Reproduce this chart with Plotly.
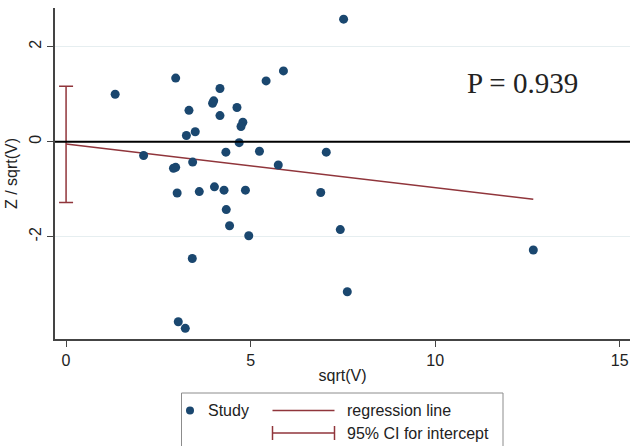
import plotly.graph_objects as go

# ---- data ----
sqrt_v = [1.33, 2.97, 3.33, 3.26, 3.50, 4.17, 3.97, 4.00, 4.17, 4.63,
          4.79, 4.74, 4.69, 5.42, 5.89, 4.33, 5.24, 5.75, 2.10, 2.91,
          2.97, 3.43, 3.01, 3.61, 4.02, 4.28, 4.86, 4.34, 4.43, 4.95,
          3.42, 3.04, 3.23, 6.90, 7.43, 12.66, 7.62, 7.52, 7.05]
z_over_sqrt_v = [1.00, 1.34, 0.66, 0.13, 0.21, 1.12, 0.81, 0.86, 0.55, 0.72,
                 0.41, 0.32, -0.02, 1.28, 1.49, -0.22, -0.20, -0.49, -0.29, -0.56,
                 -0.54, -0.43, -1.08, -1.05, -0.95, -1.02, -1.02, -1.43, -1.77, -1.98,
                 -2.46, -3.79, -3.93, -1.07, -1.85, -2.28, -3.16, 2.58, -0.22]
intercept = -0.05
slope = -0.0916
ci_low = -1.28
ci_high = 1.17
p_text = "P = 0.939"
x_ticks = [0, 5, 10, 15]
y_ticks = [-2, 0, 2]
y_tick_labels = ["-2", "0", "2"]

NAVY = "#1A476F"
MAROON = "#90353B"
FONT = "Liberation Sans, Arial, sans-serif"

W, H = 630, 446
L, R, T, B = 55, 630, 8, 339  # plot area in pixels


def pxx(p):
    return (p - L) / (R - L)


def pxy(p):
    return (B - p) / (B - T)


fig = go.Figure()

# regression line from 0 to max sqrt(V)
x_end = max(sqrt_v)
fig.add_trace(go.Scatter(x=[0, x_end], y=[intercept, intercept + slope * x_end],
                         mode="lines", line=dict(color=MAROON, width=1.5),
                         showlegend=False, hoverinfo="skip"))

# 95% CI for intercept as error bar at x = 0
mid = (ci_low + ci_high) / 2
fig.add_trace(go.Scatter(x=[0], y=[mid], mode="markers",
                         marker=dict(size=1, color="rgba(0,0,0,0)"),
                         error_y=dict(type="data", symmetric=False,
                                      array=[ci_high - mid], arrayminus=[mid - ci_low],
                                      color=MAROON, thickness=1.5, width=7),
                         showlegend=False, hoverinfo="skip"))

# study points
fig.add_trace(go.Scatter(x=sqrt_v, y=z_over_sqrt_v, mode="markers",
                         marker=dict(color=NAVY, size=9), showlegend=False))

shapes = [
    # zero reference line
    dict(type="line", xref="paper", yref="y", x0=0, x1=1, y0=0, y1=0,
         line=dict(color="black", width=2)),
]

# custom legend (Stata style)
box_l, box_r, box_t, box_b = 181.5, 503, 393, 452
shapes.append(dict(type="rect", xref="paper", yref="paper",
                   x0=pxx(box_l), x1=pxx(box_r), y0=pxy(box_b), y1=pxy(box_t),
                   line=dict(color="#8c8c8c", width=1), fillcolor="white", layer="above"))
row1, row2 = 410.5, 433
lx0, lx1 = 272.5, 334.5
shapes.append(dict(type="circle", xref="paper", yref="paper",
                   x0=pxx(186), x1=pxx(194), y0=pxy(row1 + 4), y1=pxy(row1 - 4),
                   fillcolor=NAVY, line=dict(color=NAVY, width=0), layer="above"))
shapes.append(dict(type="line", xref="paper", yref="paper",
                   x0=pxx(lx0), x1=pxx(lx1), y0=pxy(row1), y1=pxy(row1),
                   line=dict(color=MAROON, width=1.5), layer="above"))
shapes.append(dict(type="line", xref="paper", yref="paper",
                   x0=pxx(lx0), x1=pxx(lx1), y0=pxy(row2), y1=pxy(row2),
                   line=dict(color=MAROON, width=1.5), layer="above"))
for cx in (lx0, lx1):
    shapes.append(dict(type="line", xref="paper", yref="paper",
                       x0=pxx(cx), x1=pxx(cx), y0=pxy(row2 - 7), y1=pxy(row2 + 7),
                       line=dict(color=MAROON, width=1.5), layer="above"))

annotations = [
    dict(x=12.38, y=1.24, xref="x", yref="y", text=p_text, showarrow=False,
         font=dict(family="Liberation Serif, Times New Roman, serif", size=29, color="#222")),
    dict(x=pxx(206), y=pxy(row1), xref="paper", yref="paper", text="Study",
         showarrow=False, xanchor="left", yanchor="middle",
         font=dict(family=FONT, size=16, color="#222")),
    dict(x=pxx(345), y=pxy(row1), xref="paper", yref="paper", text="regression line",
         showarrow=False, xanchor="left", yanchor="middle",
         font=dict(family=FONT, size=16, color="#222")),
    dict(x=pxx(345), y=pxy(row2), xref="paper", yref="paper", text="95% CI for intercept",
         showarrow=False, xanchor="left", yanchor="middle",
         font=dict(family=FONT, size=16, color="#222")),
]

axis_common = dict(showline=True, linecolor="#444", linewidth=1.5,
                   ticks="outside", ticklen=6, tickcolor="#444", tickwidth=1.2,
                   tickfont=dict(family=FONT, size=16, color="#222"),
                   zeroline=False, automargin=False)

fig.update_layout(
    width=W, height=H,
    margin=dict(l=L, r=W - R, t=T, b=H - B),
    paper_bgcolor="white", plot_bgcolor="white",
    showlegend=False,
    shapes=shapes, annotations=annotations,
    xaxis=dict(range=[-0.30, 15.28], tickvals=x_ticks, showgrid=False,
               title=dict(text="sqrt(V)", font=dict(family=FONT, size=16, color="#222"), standoff=2),
               **axis_common),
    yaxis=dict(range=[-4.154, 2.815], tickvals=y_ticks, ticktext=y_tick_labels, tickangle=-90,
               showgrid=True, gridcolor="#E6EEF0", gridwidth=1,
               title=dict(text="Z / sqrt(V)", font=dict(family=FONT, size=16, color="#222"), standoff=5),
               **axis_common),
)

fig.write_html("out.html", config={"displayModeBar": False},
               post_script="document.body.style.margin='0';document.body.style.overflow='hidden';")
